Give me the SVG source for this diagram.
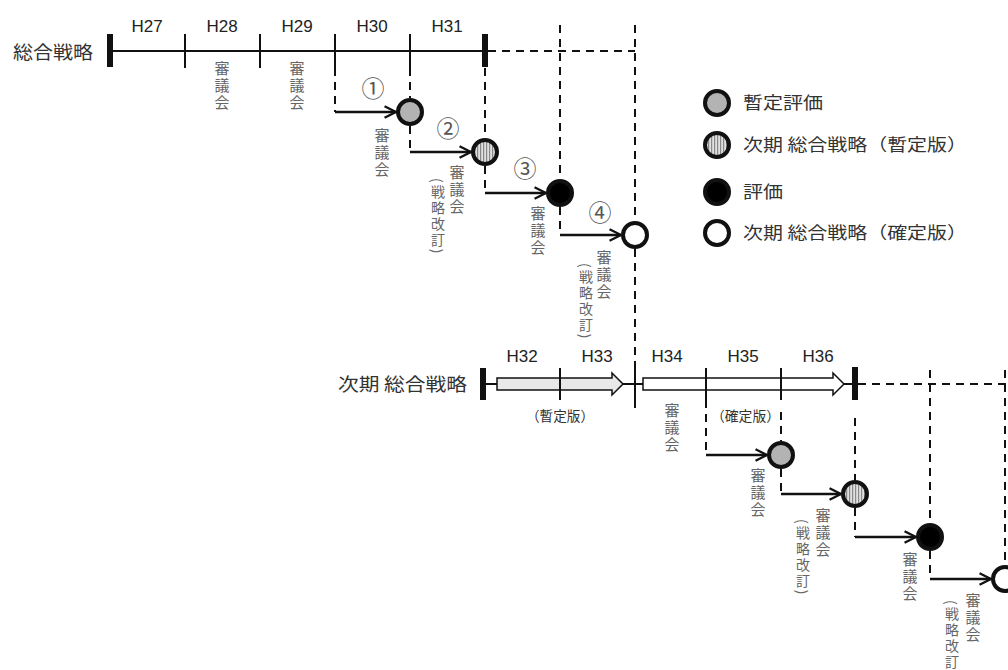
<svg xmlns="http://www.w3.org/2000/svg" width="1008" height="670" viewBox="0 0 1008 670">
<style>
.h{font-family:"Liberation Sans",Arial,sans-serif;font-size:17px;fill:#222;text-anchor:middle}
.jp{font-family:"Noto Sans CJK JP",sans-serif;fill:#333}
.lbl{font-size:18px}
.leg{font-size:17px}
.sm{font-size:14px}
.v{font-family:"Noto Sans CJK JP",sans-serif;font-size:15px;fill:#666;writing-mode:vertical-rl;letter-spacing:2px}
.v2{font-family:"Noto Sans CJK JP",sans-serif;font-size:14px;fill:#666;writing-mode:vertical-rl;letter-spacing:2px}
.num{font-family:"Noto Sans CJK JP","DejaVu Sans",sans-serif;font-size:23px;fill:#555;text-anchor:middle}
.ln{stroke:#111;stroke-width:2;fill:none}
.dash{stroke:#111;stroke-width:2;fill:none;stroke-dasharray:8 6}
.arr{stroke:#111;stroke-width:2.5;fill:none;marker-end:url(#ah)}
.c{stroke:#111;stroke-width:4}
.tick{stroke:#111;stroke-width:2}
</style>
<defs>
<marker id="ah" viewBox="0 0 12 12" refX="11" refY="6" markerWidth="5.5" markerHeight="5.5" orient="auto" markerUnits="strokeWidth">
<path d="M1,1 L11,6 L1,11" fill="none" stroke="#111" stroke-width="2"/>
</marker>
<pattern id="stripe" width="3" height="4" patternUnits="userSpaceOnUse">
<rect width="3" height="4" fill="#e0e0e0"/>
<rect width="1.2" height="4" fill="#888"/>
</pattern>
</defs>

<g id="timeline-current">
<text class="jp lbl" x="13" y="59" textLength="80" lengthAdjust="spacingAndGlyphs">総合戦略</text>
<line class="ln" x1="110" y1="51" x2="485" y2="51"/>
<rect x="107" y="34" width="6" height="33" fill="#111"/>
<rect x="482" y="34" width="6" height="33" fill="#111"/>
<line class="tick" x1="185" y1="34" x2="185" y2="68"/>
<line class="tick" x1="260" y1="34" x2="260" y2="68"/>
<line class="tick" x1="335" y1="34" x2="335" y2="68"/>
<line class="tick" x1="410" y1="34" x2="410" y2="68"/>
<text class="h" x="147" y="32">H27</text>
<text class="h" x="222" y="32">H28</text>
<text class="h" x="297" y="32">H29</text>
<text class="h" x="372" y="32">H30</text>
<text class="h" x="447" y="32">H31</text>
<text class="v" x="222" y="61">審議会</text>
<text class="v" x="297" y="61">審議会</text>
</g>

<g id="timeline-next">
<text class="jp lbl" x="338" y="391" textLength="129" lengthAdjust="spacingAndGlyphs">次期 総合戦略</text>
<line class="ln" x1="486" y1="384" x2="497" y2="384"/>
<rect x="480" y="368" width="6" height="32" fill="#111"/>
<polygon points="497,378 612,378 612,373 623,384 612,395 612,390 497,390" fill="#e8e8e8" stroke="#111" stroke-width="1.5"/>
<line class="ln" x1="623" y1="384" x2="643" y2="384"/>
<polygon points="643,378 833,378 833,373 844,384 833,395 833,390 643,390" fill="#fff" stroke="#111" stroke-width="1.5"/>
<line class="ln" x1="844" y1="384" x2="855" y2="384"/>
<rect x="852" y="367" width="6" height="33" fill="#111"/>
<line class="tick" x1="560" y1="368" x2="560" y2="400"/>
<line class="tick" x1="635" y1="368" x2="635" y2="400"/>
<line class="tick" x1="706" y1="368" x2="706" y2="400"/>
<line class="tick" x1="781" y1="368" x2="781" y2="400"/>
<text class="h" x="522" y="362">H32</text>
<text class="h" x="597" y="362">H33</text>
<text class="h" x="667" y="362">H34</text>
<text class="h" x="743" y="362">H35</text>
<text class="h" x="818" y="362">H36</text>
<text class="jp sm" x="526" y="421" textLength="68" lengthAdjust="spacingAndGlyphs">（暫定版）</text>
<text class="jp sm" x="711" y="421" textLength="69" lengthAdjust="spacingAndGlyphs">（確定版）</text>
<text class="v" x="672" y="403">審議会</text>
</g>

<g id="connectors">
<path class="dash" d="M488,51 H635"/>
<path class="dash" d="M335,68 V112"/>
<path class="arr" d="M335,112 H396"/>
<path class="dash" d="M410,68 V98"/>
<path class="dash" d="M410,126 V152"/>
<path class="arr" d="M410,152 H471"/>
<path class="dash" d="M485,68 V138"/>
<path class="dash" d="M485,166 V193"/>
<path class="arr" d="M485,193 H546"/>
<path class="dash" d="M560,25 V179"/>
<path class="dash" d="M560,207 V235"/>
<path class="arr" d="M560,235 H621"/>
<path class="dash" d="M635,25 V221"/>
<path class="dash" d="M635,249 V368"/>
<path class="dash" d="M635,400 V408"/>

<path class="dash" d="M858,384 H1008"/>
<path class="dash" d="M706,400 V455"/>
<path class="arr" d="M706,455 H767"/>
<path class="dash" d="M781,412 V441"/>
<path class="dash" d="M781,469 V494"/>
<path class="arr" d="M781,494 H841"/>
<path class="dash" d="M855,418 V480"/>
<path class="dash" d="M855,508 V537"/>
<path class="arr" d="M855,537 H916"/>
<path class="dash" d="M930,370 V523"/>
<path class="dash" d="M930,551 V579"/>
<path class="arr" d="M930,579 H991"/>
<path class="dash" d="M1005,370 V565"/>
</g>

<g id="step1">
<text class="num" x="373" y="97">①</text>
<circle class="c" cx="410" cy="112" r="12" fill="#b3b3b3"/>
<text class="v" x="382" y="128">審議会</text>
</g>
<g id="step2">
<text class="num" x="448" y="137">②</text>
<circle class="c" cx="485" cy="152" r="12" fill="url(#stripe)"/>
<text class="v" x="457" y="165">審議会</text>
<text class="v2" x="438" y="178">(戦略改訂)</text>
</g>
<g id="step3">
<text class="num" x="525" y="177">③</text>
<circle class="c" cx="560" cy="193" r="12" fill="#000"/>
<text class="v" x="538" y="206">審議会</text>
</g>
<g id="step4">
<text class="num" x="600" y="221">④</text>
<circle class="c" cx="635" cy="235" r="12" fill="#fff"/>
<text class="v" x="604" y="250">審議会</text>
<text class="v2" x="586" y="263">(戦略改訂)</text>
</g>

<g id="next-step1">
<circle class="c" cx="781" cy="455" r="12" fill="#b3b3b3"/>
<text class="v" x="758" y="468">審議会</text>
</g>
<g id="next-step2">
<circle class="c" cx="855" cy="494" r="12" fill="url(#stripe)"/>
<text class="v" x="823" y="508">審議会</text>
<text class="v2" x="803" y="519">(戦略改訂)</text>
</g>
<g id="next-step3">
<circle class="c" cx="930" cy="537" r="12" fill="#000"/>
<text class="v" x="910" y="552">審議会</text>
</g>
<g id="next-step4">
<circle class="c" cx="1005" cy="579" r="12" fill="#fff"/>
<text class="v" x="973" y="593">審議会</text>
<text class="v2" x="952" y="600">(戦略改訂</text>
</g>

<g id="legend">
<circle class="c" cx="717" cy="103" r="12" fill="#b3b3b3"/>
<text class="jp leg" x="743" y="109" textLength="80" lengthAdjust="spacingAndGlyphs">暫定評価</text>
<circle class="c" cx="717" cy="145" r="12" fill="url(#stripe)"/>
<text class="jp leg" x="743" y="151" textLength="224" lengthAdjust="spacingAndGlyphs">次期 総合戦略（暫定版）</text>
<circle class="c" cx="717" cy="192" r="12" fill="#000"/>
<text class="jp leg" x="743" y="198" textLength="40" lengthAdjust="spacingAndGlyphs">評価</text>
<circle class="c" cx="717" cy="233" r="12" fill="#fff"/>
<text class="jp leg" x="743" y="239" textLength="224" lengthAdjust="spacingAndGlyphs">次期 総合戦略（確定版）</text>
</g>
</svg>
